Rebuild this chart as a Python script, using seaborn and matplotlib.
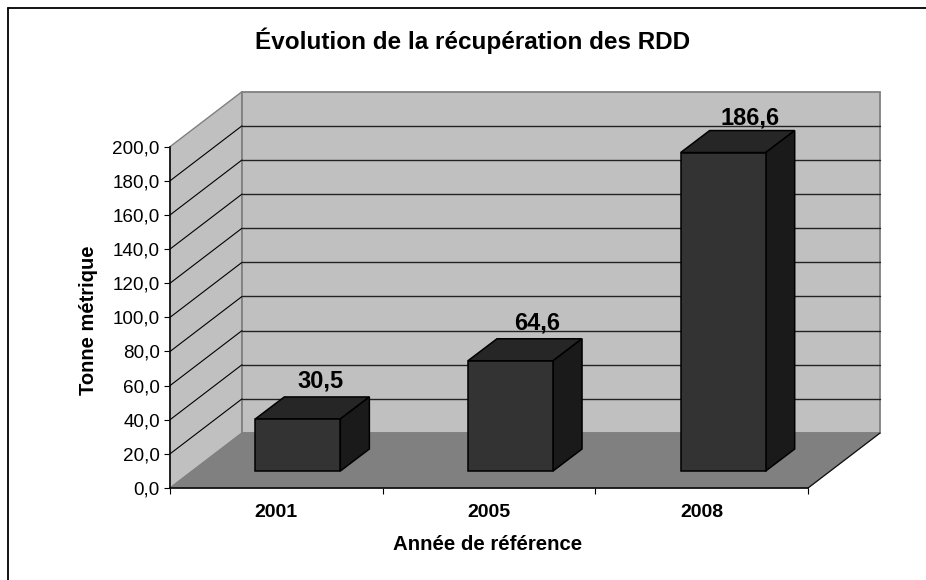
import matplotlib
matplotlib.use("Agg")
import matplotlib.pyplot as plt
import seaborn as sns
from matplotlib.patches import Polygon
from matplotlib.lines import Line2D
from matplotlib.transforms import IdentityTransform, Affine2D

years = ["2001", "2005", "2008"]
tonnes = [30.5, 64.6, 186.6]
value_labels = ["30,5", "64,6", "186,6"]
y_ticks = [0, 20, 40, 60, 80, 100, 120, 140, 160, 180, 200]
y_tick_labels = ["0,0", "20,0", "40,0", "60,0", "80,0", "100,0", "120,0", "140,0", "160,0", "180,0", "200,0"]
title = "Évolution de la récupération des RDD"
x_title = "Année de référence"
y_title = "Tonne métrique"

W, H = 926, 580
sns.set_theme(style="white")
plt.rcParams["font.family"] = ["Liberation Sans", "DejaVu Sans"]

fig = plt.figure(figsize=(W / 100, H / 100), dpi=100, facecolor="white")
ax = fig.add_axes([170 / W, (H - 488) / H, 638 / W, 341.3 / H])
ax.set_facecolor("none")

sns.barplot(x=years, y=tonnes, ax=ax, width=0.4, color="#333333", saturation=1,
            edgecolor="black", linewidth=1.1, zorder=5)
bars = list(ax.patches)
ax.set_xlim(-0.5, 2.5)
ax.set_ylim(0, 200)
ax.set_xlabel("")
ax.set_ylabel("")

px = IdentityTransform()
WALL = (72, 55)
BAR_FRONT = (21.5, 17)
BAR_BACK = (50.5, 39)
GRAY = "#808080"
LW = 0.8


def proj(x, y, off=(0, 0)):
    a, b = ax.transData.transform((x, y))
    return (a + off[0], b + off[1])


def poly(points, face, edge, lw=LW, z=1):
    ax.add_patch(Polygon(points, closed=True, facecolor=face, edgecolor=edge, linewidth=lw,
                         transform=px, clip_on=False, zorder=z))


def seg(p, q, color, lw=LW, z=2):
    ax.add_line(Line2D([p[0], q[0]], [p[1], q[1]], color=color, linewidth=lw,
                       transform=px, clip_on=False, zorder=z))


x0, x1 = ax.get_xlim()
# walls and floor
poly([proj(x0, 0), proj(x0, 0, WALL), proj(x0, 200, WALL), proj(x0, 200)], "#C0C0C0", GRAY, 1.0, 1)
poly([proj(x0, 0, WALL), proj(x1, 0, WALL), proj(x1, 200, WALL), proj(x0, 200, WALL)], "#C0C0C0", GRAY, 1.3, 1)
poly([proj(x0, 0), proj(x1, 0), proj(x1, 0, WALL), proj(x0, 0, WALL)], GRAY, GRAY, 0.8, 1.5)
seg(proj(x1, 0), proj(x1, 0, WALL), "#111111", 0.9, 2)
# gridlines
for v in y_ticks[1:-1]:
    seg(proj(x0, v), proj(x0, v, WALL), "black", 0.8)
    seg(proj(x0, v, WALL), proj(x1, v, WALL), "#222222", 1.0)

# bars: front face shifted onto the floor, top and side faces from the bar's own geometry
shift = Affine2D().translate(*BAR_FRONT)
for bar in bars:
    left, w, h = bar.get_x(), bar.get_width(), bar.get_height()
    bar.set_transform(ax.transData + shift)
    bar.set_clip_on(False)
    right = left + w
    poly([proj(left, h, BAR_FRONT), proj(right, h, BAR_FRONT), proj(right, h, BAR_BACK), proj(left, h, BAR_BACK)],
         "#262626", "black", 1.1, 4)
    poly([proj(right, 0, BAR_FRONT), proj(right, 0, BAR_BACK), proj(right, h, BAR_BACK), proj(right, h, BAR_FRONT)],
         "#1A1A1A", "black", 1.1, 4)

# value labels
for i, (v, lab, dx, dy) in enumerate(zip(tonnes, value_labels, [44, 48, 48], [55, 55, 52])):
    ax.annotate(lab, xy=(i, v), xytext=(dx, dy), textcoords="offset pixels", ha="center", va="center",
                fontsize=17, fontweight="bold", color="black", zorder=8, annotation_clip=False)

# axes furniture
for side in ("top", "right"):
    ax.spines[side].set_visible(False)
for side in ("left", "bottom"):
    ax.spines[side].set_visible(True)
    ax.spines[side].set_color("black")
    ax.spines[side].set_linewidth(1.1)
    ax.spines[side].set_zorder(6)

ax.set_yticks(y_ticks)
ax.set_yticklabels(y_tick_labels, fontsize=13.6, color="black")
ax.tick_params(axis="y", left=True, length=4.3, width=0.8, color="black", pad=3)
ax.set_xticks(range(len(years)))
ax.set_xticklabels(years, fontsize=14, fontweight="bold", color="black")
ax.tick_params(axis="x", which="major", bottom=False, length=0, pad=11.5)
ax.set_xticks([-0.5, 0.5, 1.5, 2.5], minor=True)
ax.tick_params(axis="x", which="minor", bottom=True, length=4.3, width=0.8, color="black")

fig.text(473 / W, 1 - 41 / H, title, ha="center", va="center", fontsize=17.5, fontweight="bold", color="black")
fig.text(488 / W, 1 - 545 / H, x_title, ha="center", va="center", fontsize=14.7, fontweight="bold", color="black")
fig.text(88 / W, 1 - 320 / H, y_title, ha="center", va="center", rotation=90, fontsize=14.5, fontweight="bold", color="black")

# outer chart frame (only top and left are inside the picture)
fig.add_artist(Line2D([7.5 / W, 7.5 / W], [0, 1 - 7.5 / H], color="black", linewidth=1.3, transform=fig.transFigure))
fig.add_artist(Line2D([7.5 / W, 1], [1 - 7.5 / H, 1 - 7.5 / H], color="black", linewidth=1.3, transform=fig.transFigure))

fig.savefig("out.png", dpi=100)
